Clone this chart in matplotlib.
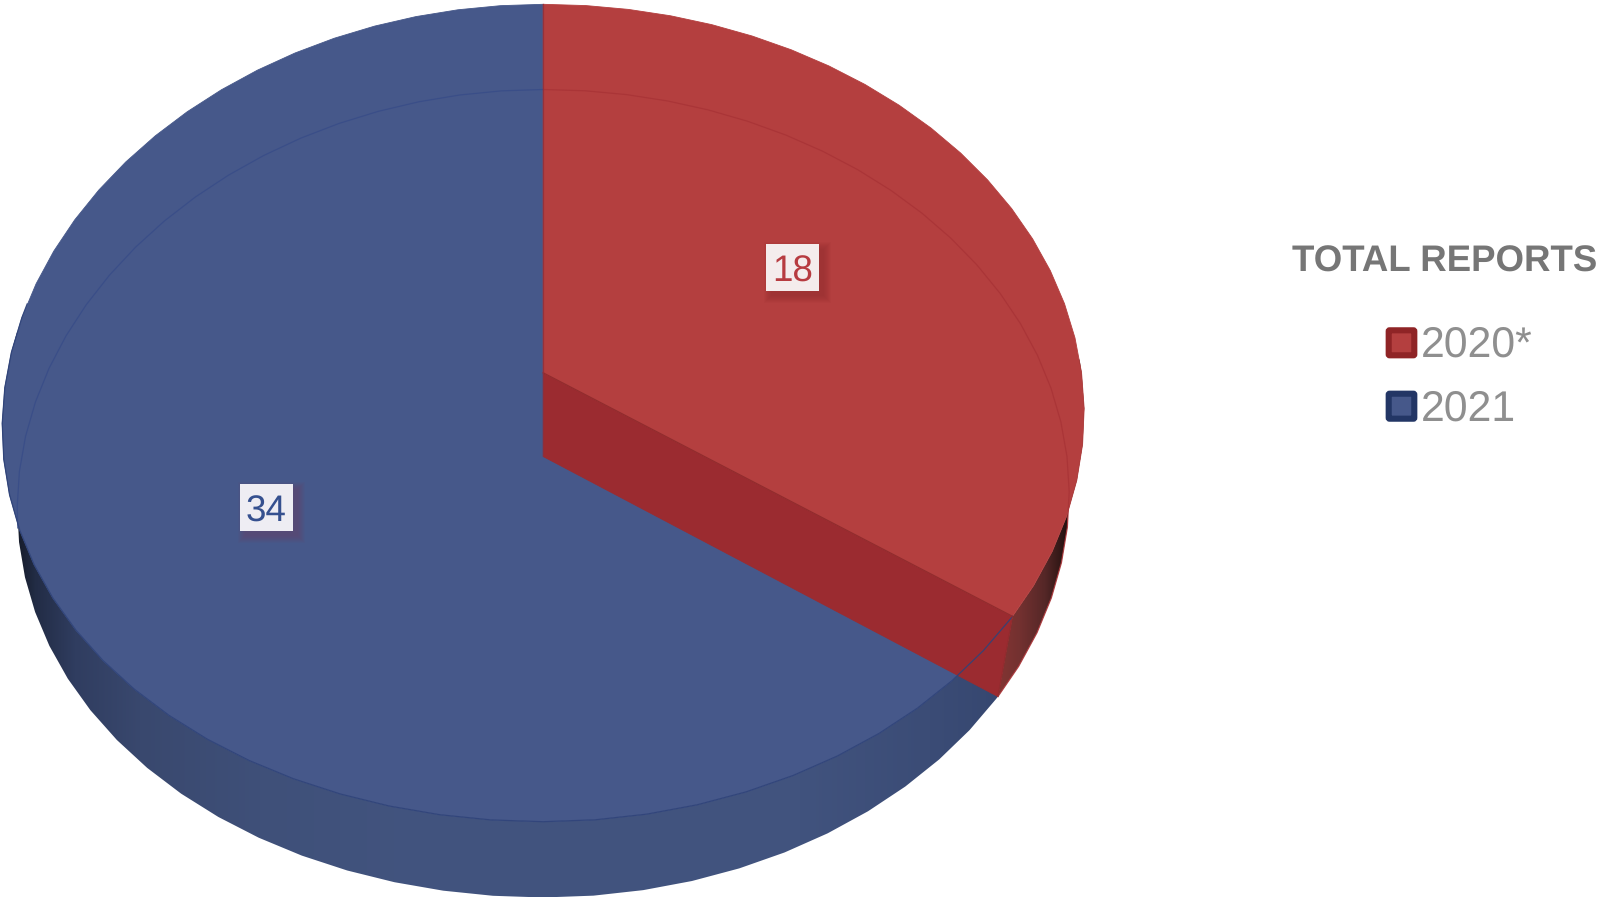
import numpy as np
import matplotlib
matplotlib.use("Agg")
import matplotlib.pyplot as plt
from matplotlib.patches import Polygon, Rectangle, FancyBboxPatch
from matplotlib.colors import to_rgb

plt.rcParams["font.family"] = ["Liberation Sans", "DejaVu Sans"]
plt.rcParams["text.hinting"] = "no_hinting"

# Report counts per year
years = ["2020*", "2021"]
reports = [18, 34]

legend_title = "TOTAL REPORTS"
red_top, red_cut, red_swatch = "#b43f3f", "#9b2b30", "#8f2426"
blue_top, blue_swatch = "#46588a", "#233665"

W, H = 1601, 897
fig = plt.figure(figsize=(W / 100, H / 100), dpi=100)
ax = fig.add_axes([0, 0, 1, 1])
ax.set_xlim(0, W)
ax.set_ylim(H, 0)
ax.axis("off")


class Disc:
    """A flat disc seen in perspective: the far rim is foreshortened."""

    def __init__(self, cx, top, apex, bottom, half_width):
        far, near = apex - top, bottom - apex
        self.k = (near - far) / (near + far)
        self.b = far * (1 + self.k)
        self.a = half_width * np.sqrt(1 - self.k ** 2)
        self.half_width = half_width
        self.cx, self.apex = cx, apex

    def rim(self, deg):
        t = np.radians(np.asarray(deg, dtype=float))
        x, y = np.sin(t), np.cos(t)
        w = 1 + self.k * y
        px = self.a * x / w
        py = -self.b * y / w
        # The camera sits slightly off-axis, which drops the left side of the disc
        sag = 15.0 * (np.minimum(px, 0) / self.half_width) ** 2
        return np.column_stack([self.cx + px, self.apex + py + sag])


def arc(start, stop, step=5.0):
    """Faceted rim angles, clockwise from twelve o'clock."""
    inner = np.arange(np.ceil(start / step) * step, stop, step)
    inner = inner[inner > start]
    return np.concatenate([[start], inner, [stop]])


top_disc = Disc(543.2, 4.3, 372.8, 821.7, 541)
base_disc = Disc(543.2, 89.5, 456.5, 897.5, 526)

split = 360 * reports[0] / sum(reports)
apex_top = np.array([[top_disc.cx, top_disc.apex]])
apex_base = np.array([[base_disc.cx, base_disc.apex]])


def shaded_wall(points, stops, zorder):
    """Fill a rim wall with a horizontal light falloff."""
    xs = np.linspace(0, W, 1601)
    pos, cols = zip(*stops)
    rgb = np.array([to_rgb(c) for c in cols])
    img = np.stack([np.interp(xs, pos, rgb[:, i]) for i in range(3)], axis=-1)[None, :, :]
    im = ax.imshow(img, extent=(0, W, H, 0), aspect="auto", zorder=zorder, interpolation="bilinear")
    clip = Polygon(points, closed=True, transform=ax.transData, fc="none", ec="none")
    ax.add_patch(clip)
    im.set_clip_path(clip)
    ax.set_xlim(0, W)
    ax.set_ylim(H, 0)


def face(points, color, zorder, edge=None, lw=0.6):
    ax.add_patch(Polygon(points, closed=True, fc=color, ec=edge or color, lw=lw, zorder=zorder))


# Blue slice: side wall, then top face
wall_angles = arc(split, 278)
shaded_wall(
    np.vstack([top_disc.rim(wall_angles), base_disc.rim(wall_angles[::-1])]),
    [(10, "#11151f"), (35, "#222c45"), (75, "#303d60"), (140, "#39486e"),
     (260, "#3f5079"), (420, "#42547f"), (800, "#41537e"), (930, "#3b4c76"), (1000, "#364770")],
    1,
)
blue_angles = arc(split, 360)
face(np.vstack([apex_top, top_disc.rim(blue_angles)]), blue_top, 2)

# Red slice: outer wall, cut face, then top face
wall_angles = arc(88, split)
shaded_wall(
    np.vstack([top_disc.rim(wall_angles), base_disc.rim(wall_angles[::-1])]),
    [(998, "#843533"), (1020, "#733130"), (1045, "#552727"), (1062, "#2f1615"), (1076, "#0d0505")],
    3,
)
end_top = top_disc.rim([split])
end_base = base_disc.rim([split])
face(np.vstack([apex_top, end_top, end_base, apex_base]), red_cut, 4)
red_angles = arc(0, split)
face(np.vstack([apex_top, top_disc.rim(red_angles)]), red_top, 5)

# Rim lines that stay visible through the translucent slices
def rim_line(pts, color, lw=0.9, alpha=0.9):
    ax.plot(pts[:, 0], pts[:, 1], color=color, lw=lw, alpha=alpha, zorder=6, solid_joinstyle="round")


rim_line(base_disc.rim(arc(0, split)), "#a93437")
rim_line(base_disc.rim(arc(262, 360)), "#394d88")
rim_line(top_disc.rim(arc(split, 282)), "#2f4379")
rim_line(np.vstack([apex_top, end_top]), "#8f2a2c")
rim_line(np.vstack([apex_top, top_disc.rim([0])]), "#93303a")
rim_line(np.vstack([apex_top, apex_base]), "#8a3040", lw=0.8, alpha=0.7)
rim_line(np.vstack([end_top, end_base]), "#8f2a2c", lw=0.8, alpha=0.7)


def value_label(value, x0, y0, x1, y1, box, ink, shadow):
    # Soft offset shadow built from stacked translucent rectangles
    for grow in np.arange(7.0, -0.5, -1.0):
        ax.add_patch(Rectangle((x0 + 5 - grow, y0 + 5 - grow), x1 - x0 + 2 * grow, y1 - y0 + 2 * grow,
                               fc=shadow, ec="none", alpha=0.05, zorder=7))
    ax.add_patch(Rectangle((x0, y0), x1 - x0, y1 - y0, fc=box, ec="none", zorder=8))
    ax.text((x0 + x1) / 2, y0 + 37, str(value), color=ink, fontsize=26.5, ha="center",
            va="baseline", zorder=9)


value_label(reports[0], 766, 244.3, 819, 291, "#f4ecec", "#b73b40", "#7f2526")
value_label(reports[1], 240, 484.3, 293, 531, "#eeedf3", "#35508f", "#7a3a58")

# Legend
ax.text(1292.5, 271.5, legend_title, color="#767676", fontsize=26.4, fontweight="bold",
        ha="left", va="baseline")


def legend_row(label, y0, edge, fill, baseline):
    ax.add_patch(FancyBboxPatch((1388.7, y0 + 3), 25.6, 25, boxstyle="round,pad=0,rounding_size=1",
                                fc=fill, ec=edge, lw=4.4, zorder=3))
    ax.text(1421, baseline, label, color="#8f8f8f", fontsize=30.8, ha="left", va="baseline")


legend_row(years[0], 327.3, red_swatch, red_top, 357)
legend_row(years[1], 390.7, blue_swatch, blue_top, 420.5)

fig.savefig("out.png", dpi=100, facecolor="white")
